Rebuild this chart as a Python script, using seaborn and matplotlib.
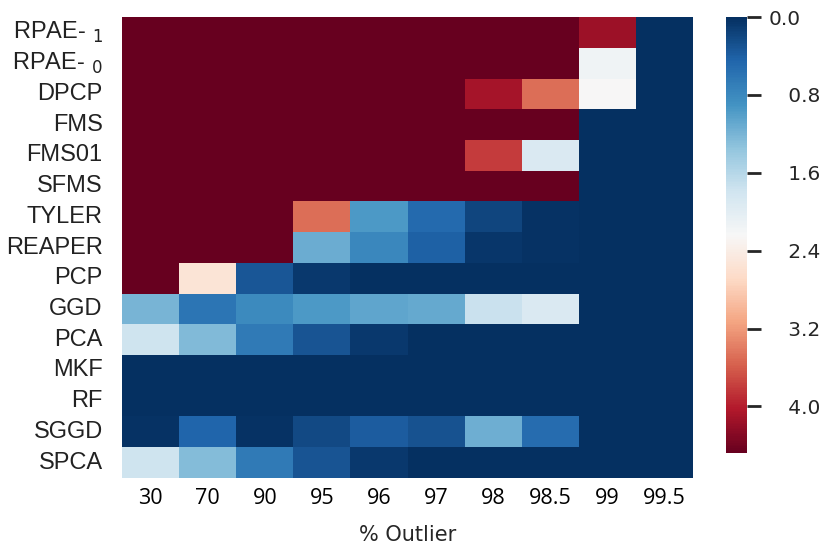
import numpy as np
import pandas as pd
import matplotlib
matplotlib.use("Agg")
import matplotlib.pyplot as plt
import seaborn as sns

methods = ["RPAE- $_1$", "RPAE- $_0$", "DPCP", "FMS", "FMS01", "SFMS", "TYLER",
           "REAPER", "PCP", "GGD", "PCA", "MKF", "RF", "SGGD", "SPCA"]
outliers = ["30", "70", "90", "95", "96", "97", "98", "98.5", "99", "99.5"]
cbar_ticks = [0.0, 0.8, 1.6, 2.4, 3.2, 4.0]

# error values (row = method, col = % outlier)
rpae1 = [4.6, 4.6, 4.6, 4.6, 4.6, 4.6, 4.6, 4.6, 4.15, 0.0]
rpae0 = [4.6, 4.6, 4.6, 4.6, 4.6, 4.6, 4.6, 4.6, 2.15, 0.0]
dpcp = [4.6, 4.6, 4.6, 4.6, 4.6, 4.6, 4.1, 3.5, 2.25, 0.0]
fms = [4.6, 4.6, 4.6, 4.6, 4.6, 4.6, 4.6, 4.6, 0.0, 0.0]
fms01 = [4.6, 4.6, 4.6, 4.6, 4.6, 4.6, 3.8, 1.9, 0.0, 0.0]
sfms = [4.6, 4.6, 4.6, 4.6, 4.6, 4.6, 4.6, 4.6, 0.0, 0.0]
tyler = [4.6, 4.6, 4.6, 3.5, 0.95, 0.5, 0.18, 0.02, 0.0, 0.0]
reaper = [4.6, 4.6, 4.6, 1.12, 0.78, 0.42, 0.06, 0.02, 0.0, 0.0]
pcp = [4.6, 2.55, 0.32, 0.08, 0.01, 0.0, 0.0, 0.0, 0.0, 0.0]
ggd = [1.2, 0.6, 0.82, 0.95, 1.05, 1.1, 1.75, 1.9, 0.0, 0.0]
pca = [1.78, 1.25, 0.66, 0.3, 0.08, 0.0, 0.0, 0.0, 0.0, 0.0]
mkf = [0.0] * 10
rf = [0.0] * 10
sggd = [0.02, 0.45, 0.02, 0.22, 0.37, 0.28, 1.15, 0.52, 0.0, 0.0]
spca = [1.78, 1.27, 0.66, 0.3, 0.08, 0.0, 0.0, 0.0, 0.0, 0.0]

rows = [rpae1, rpae0, dpcp, fms, fms01, sfms, tyler, reaper, pcp, ggd, pca,
        mkf, rf, sggd, spca]
df = pd.DataFrame(rows, index=methods, columns=outliers)

sns.set_theme(style="white")

fig = plt.figure(figsize=(8.25, 5.5), dpi=100)
ax = fig.add_axes([0.148, 0.131, 0.692, 0.838])
cax = fig.add_axes([0.88, 0.176, 0.026, 0.793])

sns.heatmap(df, ax=ax, cbar_ax=cax, cmap="RdBu_r", vmin=0, vmax=4.48,
            cbar_kws={"ticks": cbar_ticks})

# colorbar runs 0 at top -> 4.5 at bottom
cax.invert_yaxis()
cax.set_yticks(cbar_ticks)
# the original lost its minus signs, leaving a blank gap in front
cax.set_yticklabels(["%.1f" % t if t == 0 else "\u2002\u2002%.1f" % t for t in cbar_ticks],
                    family="DejaVu Sans", fontsize=14.5, color="#262626")
cax.tick_params(axis="y", length=10, width=2, color="#262626", pad=5)
for s in cax.spines.values():
    s.set_visible(False)

ax.tick_params(axis="both", length=0)
ax.set_yticklabels(methods, rotation=0, fontsize=17, family="Liberation Sans",
                   color="#222222")
ax.tick_params(axis="y", pad=14)
ax.set_xticklabels(outliers, rotation=0, fontsize=15.5, family="Open Sans",
                   color="black")
ax.tick_params(axis="x", pad=7)
ax.set_xlabel("% Outlier", fontsize=15, family="DejaVu Sans", color="#262626",
              labelpad=12)
ax.set_ylabel("")

fig.savefig("out.png", dpi=100)
